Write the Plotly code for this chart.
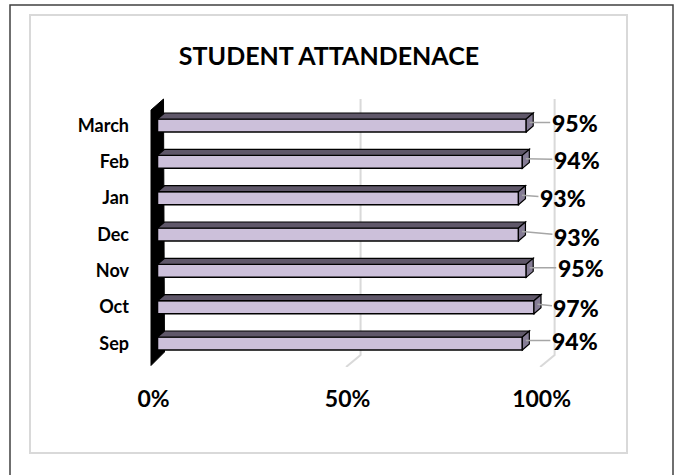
import plotly.graph_objects as go

# ---- data ----
months = ["Sep", "Oct", "Nov", "Dec", "Jan", "Feb", "March"]
attendance = [94, 97, 95, 93, 93, 94, 95]
x_tick_vals = [0, 50, 100]
x_tick_text = ["0%", "50%", "100%"]
title_text = "STUDENT ATTANDENACE"

# ---- label offsets (pixels, style only) ----
label_ax = [49, 39, 51, 55, 41, 51, 45]
label_ay = [0, 4, 0, 5, 3, 1, 0]

# ---- layout geometry ----
FIG_W, FIG_H = 680, 475
ML, MR, MT, MB = 142, 49, 98, 108
PW, PH = FIG_W - ML - MR, FIG_H - MT - MB
XR = [-4, 122]
Y0_PX = 343.5          # pixel of first category centre
Y_STEP = 36.33         # pixels per category
YR = [-(MT + PH - Y0_PX) / Y_STEP, (Y0_PX - MT) / Y_STEP]
SX = PW / (XR[1] - XR[0])


def ux(px):
    return px / SX


def uy(px):
    return px / Y_STEP


def xpx(px):  # absolute pixel -> data x
    return XR[0] + (px - ML) / SX


def ypx(py):  # absolute pixel -> data y
    return YR[1] - (py - MT) / Y_STEP


def paper_x(px):
    return (px - ML) / PW


def paper_y(py):
    return (FIG_H - MB - py) / PH


ypos = list(range(len(months)))
FRONT = "#CCC0DA"
TOP = "#5F5769"
SIDE = "#857C95"
HB = uy(13) / 2
DXB, DYB = ux(7), uy(6)
FONT = "Lato"

fig = go.Figure()
fig.add_trace(go.Bar(
    y=ypos, x=attendance, orientation="h", width=2 * HB,
    marker=dict(color=FRONT, line=dict(color="black", width=1.5)),
    hoverinfo="skip",
))

shapes = []
# outer frame and chart-area border
shapes.append(dict(type="rect", xref="paper", yref="paper",
                   x0=paper_x(10), x1=paper_x(673), y0=paper_y(485), y1=paper_y(5),
                   line=dict(color="#404040", width=1.5), layer="below"))
shapes.append(dict(type="rect", xref="paper", yref="paper",
                   x0=paper_x(30), x1=paper_x(627), y0=paper_y(453), y1=paper_y(15),
                   line=dict(color="#D9D9D9", width=2), layer="below"))

# gridlines (back wall + floor diagonal)
BACK_DX = ux(9)
FRONT_DX = ux(5.5)
y_back_floor = ypx(355)
y_front_floor = ypx(367)
y_top = ypx(99)
for g in x_tick_vals[1:]:
    shapes.append(dict(type="path", xref="x", yref="y", layer="below",
                       path=f"M {g + BACK_DX},{y_top} L {g + BACK_DX},{y_back_floor} "
                            f"L {g - FRONT_DX},{y_front_floor}",
                       line=dict(color="#D9D9D9", width=2)))

# left side wall (black)
wall = [(xpx(151), ypx(110)), (xpx(163.5), ypx(99)),
        (xpx(164.5), ypx(352)), (xpx(151), ypx(365.5))]
shapes.append(dict(type="path", xref="x", yref="y", layer="below",
                   path="M " + " L ".join(f"{a},{b}" for a, b in wall) + " Z",
                   fillcolor="black", line=dict(color="black", width=1)))

# 3D top and end faces for every bar
for y, v in zip(ypos, attendance):
    top = [(0, y + HB), (v, y + HB), (v + DXB, y + HB + DYB), (DXB, y + HB + DYB)]
    end = [(v, y - HB), (v + DXB, y - HB + DYB), (v + DXB, y + HB + DYB), (v, y + HB)]
    for pts, col in ((top, TOP), (end, SIDE)):
        shapes.append(dict(type="path", xref="x", yref="y", layer="above",
                           path="M " + " L ".join(f"{a},{b}" for a, b in pts) + " Z",
                           fillcolor=col, line=dict(color="black", width=1.2)))

annotations = []
for y, v, ax, ay in zip(ypos, attendance, label_ax, label_ay):
    annotations.append(dict(
        x=v + DXB / 2, y=y + DYB / 2, xref="x", yref="y",
        text=f"{v}%", showarrow=True, arrowhead=0, arrowwidth=1.5,
        arrowcolor="#A6A6A6", ax=ax, ay=ay, standoff=0,
        font=dict(family=FONT, size=23, color="black", weight=900),
    ))

fig.update_layout(
    width=FIG_W, height=FIG_H,
    margin=dict(l=ML, r=MR, t=MT, b=MB),
    paper_bgcolor="white", plot_bgcolor="white",
    showlegend=False,
    title=dict(text=f"<b>{title_text}</b>", x=329 / FIG_W, xref="container", xanchor="center",
               y=1 - 56 / FIG_H, yref="container", yanchor="middle",
               font=dict(family=FONT, size=25, color="black")),
    xaxis=dict(range=XR, tickvals=x_tick_vals, ticktext=[f"<b>{t}</b>" for t in x_tick_text],
               showgrid=False, zeroline=False, showline=False, ticks="", automargin=False,
               ticklabelshift=-4, ticklabelstandoff=16,
               tickfont=dict(family=FONT, size=23, color="black")),
    yaxis=dict(range=YR, tickvals=ypos, ticktext=[f"<b>{m}</b>" for m in months],
               showgrid=False, zeroline=False, showline=False, ticks="", automargin=False,
               ticklabelstandoff=12,
               tickfont=dict(family=FONT, size=18, color="black")),
    shapes=shapes, annotations=annotations,
)

fig.write_html("out.html", config={"displayModeBar": False},
               post_script="document.body.style.margin='0';")
